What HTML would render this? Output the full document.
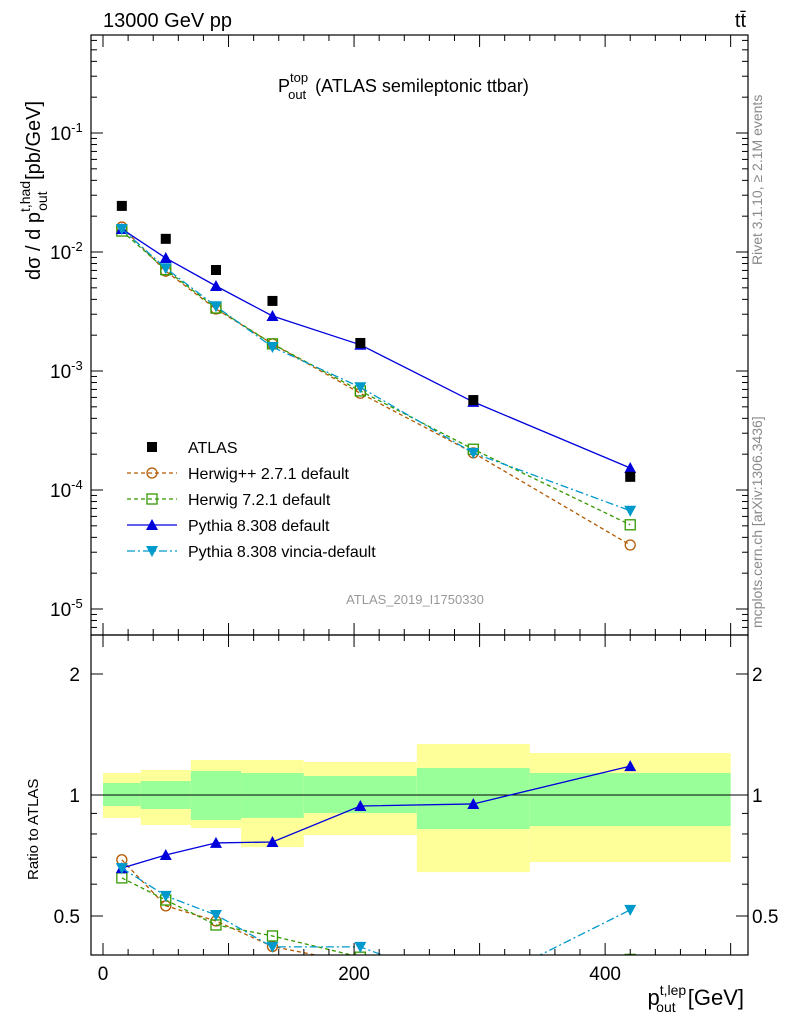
<!DOCTYPE html>
<html><head><meta charset="utf-8"><style>
body{margin:0;background:#fff}
svg text{font-family:"Liberation Sans",sans-serif}
</style></head><body>
<svg id="c" width="786" height="1024" xmlns="http://www.w3.org/2000/svg">
<g id="g"></g>
</svg>
<script>
const xCenters=[15,50,90,135,205,295,420];
const binEdges=[0,30,70,110,160,250,340,500];
const atlas=[0.0244,0.0129,0.00706,0.00388,0.00172,5.7e-4,1.29e-4];
const herwigpp=[0.0162,0.0069,0.00332,0.00169,6.5e-4,2.05e-4,3.45e-5];
const herwig7=[0.015,0.0071,0.00338,0.00169,6.8e-4,2.2e-4,5.1e-5];
const pythia=[0.0156,0.0089,0.00518,0.0029,0.00166,5.5e-4,1.53e-4];
const vincia=[0.0156,0.0073,0.0035,0.00159,7.3e-4,2.05e-4,6.7e-5];
const rHerwigpp=[0.69,0.53,0.486,0.42,0.38,0.36,0.27];
const rHerwig7=[0.622,0.548,0.475,0.446,0.395,0.385,0.39];
const rPythia=[0.658,0.709,0.76,0.764,0.939,0.95,1.18];
const rVincia=[0.658,0.561,0.503,0.419,0.419,0.33,0.518];
const yelHi=[1.134,1.154,1.222,1.222,1.208,1.339,1.272];
const yelLo=[0.877,0.842,0.828,0.742,0.795,0.643,0.681];
const grnHi=[1.071,1.083,1.147,1.134,1.115,1.167,1.134];
const grnLo=[0.939,0.923,0.867,0.877,0.902,0.823,0.837];
const xTicks=[0,200,400];
const yTickExp=[-1,-2,-3,-4,-5];
const rTicks=[2,1,0.5];

const L=91,R=748,T=35,MB=635,RB=955;
const X=v=>103+(v)*1.2553;
const Y=v=>133+(-1-Math.log10(v))*119;
const YR=v=>795-Math.log10(v)*402;
const NS="http://www.w3.org/2000/svg";
const g=document.getElementById('g');
function el(t,a,name,parent){const e=document.createElementNS(NS,t);for(const k in a)e.setAttribute(k,a[k]);


(parent||g).appendChild(e);return e;}
function txt(s,x,y,size,name,anchor,fill){const e=el('text',{x:x,y:y,'font-size':size,'text-anchor':anchor||'start',fill:fill||'#000'},name);e.innerHTML=s;return e;}

// bands
const clip=el('clipPath',{id:'rc'},'ratio-clip');el('rect',{x:L,y:MB,width:R-L,height:RB-MB},'clip-rect',clip);
const rg=el('g',{'clip-path':'url(#rc)'},'ratio-area');
for(let i=0;i<7;i++){
 el('rect',{x:X(binEdges[i]),y:YR(yelHi[i]),width:X(binEdges[i+1])-X(binEdges[i]),height:YR(yelLo[i])-YR(yelHi[i]),fill:'#ffff99'},'yellow-band',rg);
 el('rect',{x:X(binEdges[i]),y:YR(grnHi[i]),width:X(binEdges[i+1])-X(binEdges[i]),height:YR(grnLo[i])-YR(grnHi[i]),fill:'#99ff99'},'green-band',rg);
}
el('line',{x1:L,x2:R,y1:YR(1),y2:YR(1),stroke:'#000','stroke-width':1},'unity-line',rg);

const series=[
 {d:herwigpp,r:rHerwigpp,c:'#b35900',dash:'4,3',m:'circle',n:'herwigpp'},
 {d:herwig7,r:rHerwig7,c:'#339900',dash:'4,3',m:'square',n:'herwig7'},
 {d:pythia,r:rPythia,c:'#0000dd',dash:'',m:'up',n:'pythia'},
 {d:vincia,r:rVincia,c:'#0099cc',dash:'8,3,2,3',m:'down',n:'vincia'}];
function marker(m,x,y,c,name,p){
 if(m==='circle')el('circle',{cx:x,cy:y,r:5,fill:'none',stroke:c,'stroke-width':1.3},name,p);
 else if(m==='square')el('rect',{x:x-5,y:y-5,width:10,height:10,fill:'none',stroke:c,'stroke-width':1.3},name,p);
 else if(m==='up')el('polygon',{points:`${x-6},${y+5} ${x+6},${y+5} ${x},${y-6}`,fill:c},name,p);
 else if(m==='down')el('polygon',{points:`${x-6},${y-5} ${x+6},${y-5} ${x},${y+6}`,fill:c},name,p);
 else el('rect',{x:x-5,y:y-5,width:10,height:10,fill:c},name,p);
}
const mc=el('clipPath',{id:'mc'},'main-clip');el('rect',{x:L,y:T,width:R-L,height:MB-T},'clip-rect',mc);
const mg=el('g',{'clip-path':'url(#mc)'},'main-area');
series.forEach(s=>{
 el('polyline',{points:xCenters.map((x,i)=>X(x)+','+Y(s.d[i])).join(' '),fill:'none',stroke:s.c,'stroke-width':1.3,'stroke-dasharray':s.dash},s.n+'-line',mg);
 xCenters.forEach((x,i)=>marker(s.m,X(x),Y(s.d[i]),s.c,s.n+'-point',mg));
 el('polyline',{points:xCenters.map((x,i)=>X(x)+','+YR(s.r[i])).join(' '),fill:'none',stroke:s.c,'stroke-width':1.3,'stroke-dasharray':s.dash},s.n+'-ratio-line',rg);
 xCenters.forEach((x,i)=>marker(s.m,X(x),YR(s.r[i]),s.c,s.n+'-ratio-point',rg));
});
xCenters.forEach((x,i)=>marker('sq',X(x),Y(atlas[i]),'#000','atlas-point',mg));

// frames
el('rect',{x:L,y:T,width:R-L,height:MB-T,fill:'none',stroke:'#000','stroke-width':1.2},'main-frame');
el('rect',{x:L,y:MB,width:R-L,height:RB-MB,fill:'none',stroke:'#000','stroke-width':1.2},'ratio-frame');
// x ticks
for(let v=-0;v<=500;v+=20){const big=v%100===0;const x=X(v);
 [[MB,big?12:6],[T,-(big?12:6)],[RB,big?12:6],[MB,-(big?12:6)]].forEach(([y,l])=>{
  el('line',{x1:x,x2:x,y1:y,y2:y-l,stroke:'#000'},'x-tick');});
}
xTicks.forEach(v=>txt(v,X(v),980,19,'x-tick-label','middle'));
// y log ticks
for(let e=-6;e<=-1;e++)for(let k=1;k<10;k++){const v=k*Math.pow(10,e);const y=Y(v);if(y<T||y>MB)continue;const l=k===1?12:6;
 el('line',{x1:L,x2:L+l,y1:y,y2:y,stroke:'#000'},'y-tick');el('line',{x1:R,x2:R-l,y1:y,y2:y,stroke:'#000'},'y-tick');}
yTickExp.forEach(e=>txt(`10<tspan dy="-8" font-size="13">${e}</tspan>`,50,Y(Math.pow(10,e))+7,19,'y-tick-label'));
// ratio ticks
[0.4,0.5,0.6,0.7,0.8,0.9,1,2].forEach(v=>{const y=YR(v);const l=(v===1||v===2||v===0.5)?12:6;
 el('line',{x1:L,x2:L+l,y1:y,y2:y,stroke:'#000'},'r-tick');el('line',{x1:R,x2:R-l,y1:y,y2:y,stroke:'#000'},'r-tick');});
rTicks.forEach(v=>{txt(v,80,YR(v)+7,19,'r-tick-label','end');txt(v,752,YR(v)+7,19,'r-tick-label-right');});

// texts
txt('13000 GeV pp',103,27,20,'energy-label');
txt('t<tspan>t̄</tspan>',746,27,20,'process-label','end');
txt('P<tspan dy="-10" font-size="13">top</tspan><tspan dx="-20" dy="17" font-size="13">out</tspan><tspan dy="-7" dx="4"> (ATLAS semileptonic ttbar)</tspan>',278,92,18,'plot-title');
txt('ATLAS_2019_I1750330',415,604,13,'analysis-id','middle','#999');
const yl=txt('dσ / d p<tspan dy="-10" font-size="14">t,had</tspan><tspan dx="-30" dy="17" font-size="14">out</tspan><tspan dy="-7" dx="6"> [pb/GeV]</tspan>',0,0,20,'y-axis-title');
yl.setAttribute('transform','translate(40,280) rotate(-90)');
const rl=txt('Ratio to ATLAS',0,0,15,'ratio-axis-title');rl.setAttribute('transform','translate(38,880) rotate(-90)');
txt('p<tspan dy="-10" font-size="14">t,lep</tspan><tspan dx="-30" dy="17" font-size="14">out</tspan><tspan dy="-7" dx="6"> [GeV]</tspan>',744,1005,22,'x-axis-title','end');
const r1=txt('Rivet 3.1.10, ≥ 2.1M events',0,0,14,'rivet-label','start','#888');r1.setAttribute('transform','translate(762,265) rotate(-90)');
const r2=txt('mcplots.cern.ch [arXiv:1306.3436]',0,0,14,'mcplots-label','start','#888');r2.setAttribute('transform','translate(762,628) rotate(-90)');
// legend
const leg=[['ATLAS','#000','','sq'],['Herwig++ 2.7.1 default','#b35900','4,3','circle'],['Herwig 7.2.1 default','#339900','4,3','square'],['Pythia 8.308 default','#0000dd','','up'],['Pythia 8.308 vincia-default','#0099cc','8,3,2,3','down']];
leg.forEach((l,i)=>{const y=447+i*26;
 if(i>0)el('line',{x1:127,x2:177,y1:y,y2:y,stroke:l[1],'stroke-width':1.3,'stroke-dasharray':l[2]},'legend-line');
 marker(l[3],152,y,l[1],'legend-marker');txt(l[0],188,y+6,16,'legend-entry');});
</script>
</body></html>
